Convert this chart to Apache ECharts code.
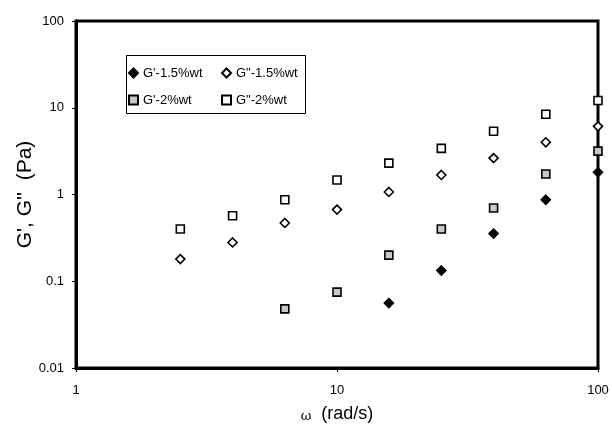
<!DOCTYPE html>
<html>
<head>
<meta charset="utf-8">
<script src="https://cdn.jsdelivr.net/npm/echarts@6/dist/echarts.min.js"></script>
<style>
html,body{margin:0;padding:0;background:#fff;}
#c{width:612px;height:428px;}
</style>
</head>
<body>
<div id="c"></div>
<script>
const omega = [2.51, 3.98, 6.31, 10, 15.8, 25.1, 39.8, 63.1, 100];
const gpp2  = [0.40, 0.57, 0.87, 1.47, 2.3, 3.4, 5.35, 8.4, 12.1];
const gpp15 = [0.18, 0.28, 0.47, 0.67, 1.07, 1.68, 2.63, 4.0, 6.1];
const gp2   = [null, null, 0.048, 0.075, 0.20, 0.40, 0.70, 1.72, 3.16];
const gp15  = [null, null, null, null, 0.056, 0.133, 0.354, 0.87, 1.8];
const xTicks = [1, 10, 100];
const yTicks = [0.01, 0.1, 1, 10, 100];
const names = ["G'-1.5%wt", 'G"-1.5%wt', "G'-2%wt", 'G"-2%wt'];

function pairs(vals){
  const out = [];
  vals.forEach((v,i)=>{ if(v!=null) out.push([omega[i], v]); });
  return out;
}
const FONT = '"Liberation Sans", Arial, sans-serif';
const chart = echarts.init(document.getElementById('c'), null, {renderer:'canvas'});

function sym(name, vals, symbol, fill, size){
  return {
    name: name, type:'scatter', data: pairs(vals), symbol: symbol, symbolSize: size,
    clip:false,
    itemStyle:{color: fill, borderColor:'#000', borderWidth: 1.6, opacity:1},
    emphasis:{disabled:true}
  };
}

chart.setOption({
  animation:false,
  backgroundColor:'#fff',
  textStyle:{fontFamily: FONT},
  grid:{left:76, right:14, top:21, bottom:58, show:true, borderColor:'#000', borderWidth:3, backgroundColor:'transparent'},
  xAxis:{
    type:'log', logBase:10, min:xTicks[0], max:xTicks[xTicks.length-1],
    axisLine:{show:true, lineStyle:{color:'#000', width:3}},
    axisTick:{show:true, length:4, lineStyle:{color:'#000', width:1}},
    splitLine:{show:false},
    axisLabel:{color:'#000', fontSize:13, fontFamily:FONT, margin:16,
      formatter: v => String(v)},
    name:'{w|ω}  (rad/s)',
    nameLocation:'middle', nameGap:37, nameMoveOverlap:false,
    nameTextStyle:{color:'#000', fontSize:18, fontFamily:FONT,
      rich:{w:{fontSize:13, fontFamily:'"DejaVu Serif", "Liberation Serif", serif', color:'#000', verticalAlign:'bottom'}}}
  },
  yAxis:{
    type:'log', logBase:10, min:yTicks[0], max:yTicks[yTicks.length-1],
    axisLine:{show:true, lineStyle:{color:'#000', width:3}},
    axisTick:{show:true, length:4, lineStyle:{color:'#000', width:1}},
    splitLine:{show:false},
    axisLabel:{color:'#000', fontSize:13, fontFamily:FONT, margin:12,
      formatter: v => { const t = yTicks.find(k => Math.abs(Math.log10(k) - Math.log10(v)) < 1e-6); return t!==undefined ? String(t) : ''; }},
    name:"G', G''  (Pa)",
    nameLocation:'middle', nameGap:40, nameMoveOverlap:false,
    nameTextStyle:{color:'#000', fontSize:21, fontFamily:FONT}
  },
  legend:[
    {data:[names[0], names[2]], orient:'vertical', left:128, top:66, padding:0,
     itemGap:13, itemWidth:9, itemHeight:9,
     textStyle:{color:'#000', fontSize:13, fontFamily:FONT, lineHeight:14}},
    {data:[names[1], names[3]], orient:'vertical', left:221, top:66, padding:0,
     itemGap:13, itemWidth:9, itemHeight:9,
     textStyle:{color:'#000', fontSize:13, fontFamily:FONT, lineHeight:14}}
  ],
  graphic:[{type:'rect', left:126, top:55, z:-1,
    shape:{width:179, height:58},
    style:{fill:'#fff', stroke:'#000', lineWidth:1}}],
  series:[
    sym(names[0], gp15, 'diamond', '#000', 9),
    sym(names[1], gpp15, 'diamond', '#fff', 9),
    sym(names[2], gp2, 'rect', '#c8c8c8', 8),
    sym(names[3], gpp2, 'rect', '#fff', 8)
  ]
});
</script>
</body>
</html>
